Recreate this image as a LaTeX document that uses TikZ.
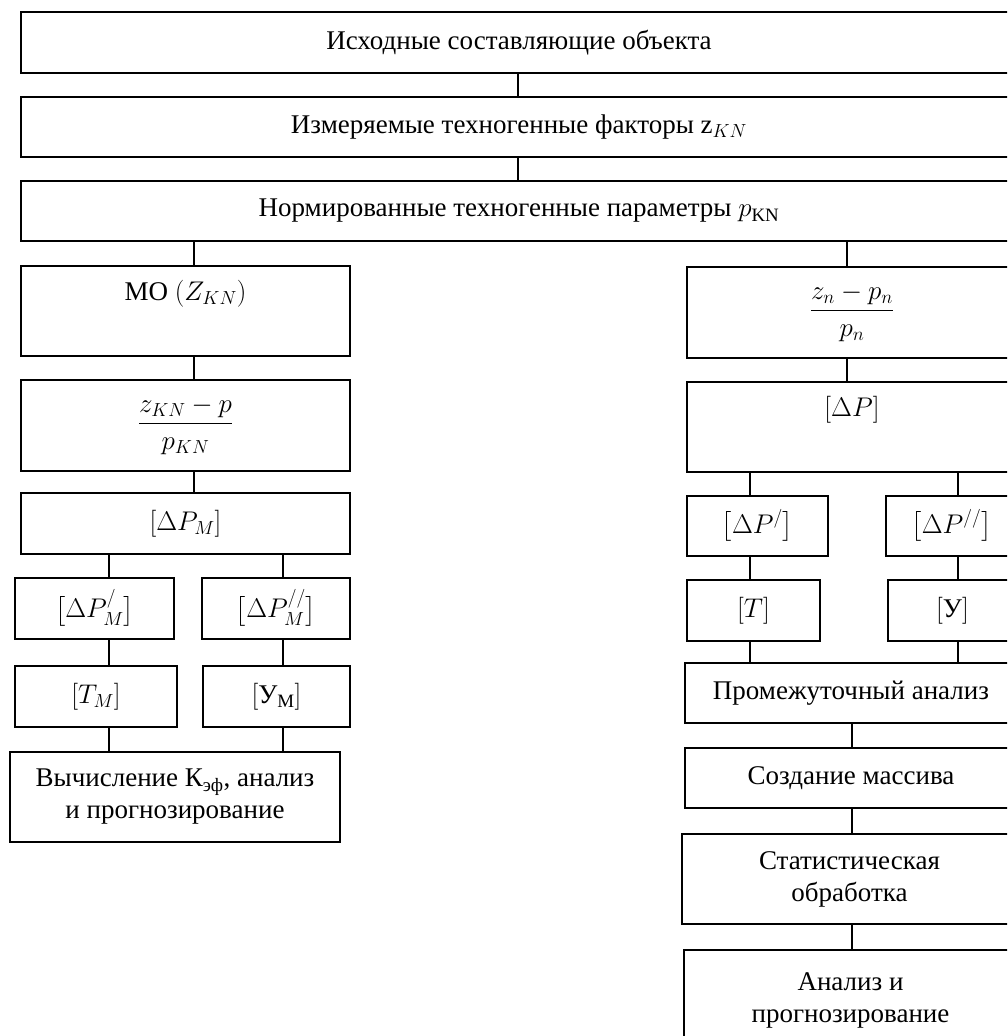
\RequirePackage{fix-cm}
\documentclass[tikz,border=0pt]{standalone}
\usepackage{amsmath}
\usepackage{fontspec}
\setmainfont{Liberation Serif}
\usetikzlibrary{calc}
\tikzset{
  blk/.style={draw, line width=1.4pt, inner sep=0pt, outer sep=0pt, align=center,
    anchor=north west, font=\fontsize{27}{32}\selectfont},
  link/.style={line width=1.4pt},
}
\begin{document}
\begin{tikzpicture}[x=1pt,y=-1pt]
\useasboundingbox (0,0) rectangle (1007,1036);
\clip (0,0) rectangle (1007,1036);
% common trunk
\node[blk, minimum width=996, minimum height=61] (src) at (21,12) {Исходные составляющие объекта};
\node[blk, minimum width=996, minimum height=60] (meas) at (21,97) {Измеряемые техногенные факторы z$_{KN}$};
\node[blk, minimum width=996, minimum height=60] (norm) at (21,181) {Нормированные техногенные параметры $p_{\mathrm{KN}}$};
% left branch
\node[blk, minimum width=329, minimum height=90] (mo) at (21,266) {MO $(Z_{KN})$\\ \strut};
\node[blk, minimum width=329, minimum height=91] (fracL) at (21,380) {$\dfrac{z_{KN}-p}{p_{KN}}$};
\node[blk, minimum width=329, minimum height=61] (dpm) at (21,493) {$[\Delta P_M]$};
\node[blk, minimum width=159, minimum height=61] (dpmA) at (15,578) {$\bigl[\Delta P_M^{/}\bigr]$};
\node[blk, minimum width=148, minimum height=61] (dpmB) at (202,578) {$\bigl[\Delta P_M^{//}\bigr]$};
\node[blk, minimum width=162, minimum height=61] (tm) at (15,666) {$[T_M]$};
\node[blk, minimum width=147, minimum height=61] (um) at (203,666) {$[\text{У}_{\text{М}}]$};
\node[blk, minimum width=330, minimum height=90] (calc) at (10,752) {Вычисление К\textsubscript{эф}, анализ\\и прогнозирование};
% right branch
\node[blk, minimum width=330, minimum height=91] (fracR) at (687,267) {$\dfrac{z_n-p_n}{p_n}$};
\node[blk, minimum width=330, minimum height=90] (dp) at (687,382) {$[\Delta P]$\\ \strut};
\node[blk, minimum width=141, minimum height=60] (dpA) at (687,496) {$\bigl[\Delta P^{/}\bigr]$};
\node[blk, minimum width=131, minimum height=60] (dpB) at (886,496) {$\bigl[\Delta P^{//}\bigr]$};
\node[blk, minimum width=133, minimum height=61] (tt) at (687,580) {$[T]$};
\node[blk, minimum width=129, minimum height=61] (uu) at (888,580) {$[\text{У}]$};
\node[blk, minimum width=332, minimum height=60] (inter) at (685,663) {Промежуточный анализ};
\node[blk, minimum width=332, minimum height=60] (arr) at (685,748) {Создание массива};
\node[blk, minimum width=335, minimum height=90] (stat) at (682,834) {Статистическая\\обработка};
\node[blk, minimum width=333, minimum height=100] (an) at (684,950) {Анализ и\\прогнозирование};
% connector columns
\coordinate (cA) at (518,0);
\coordinate (cL) at (194,0);
\coordinate (cR) at (847,0);
\coordinate (cL1) at (109,0);
\coordinate (cL2) at (283,0);
\coordinate (cR1) at (750,0);
\coordinate (cR2) at (958,0);
\coordinate (cR3) at (852,0);
% connectors
\draw[link] (src.south -| cA) -- (meas.north -| cA);
\draw[link] (meas.south -| cA) -- (norm.north -| cA);
\draw[link] (norm.south -| cL) -- (mo.north -| cL);
\draw[link] (norm.south -| cR) -- (fracR.north -| cR);
\draw[link] (mo.south -| cL) -- (fracL.north -| cL);
\draw[link] (fracL.south -| cL) -- (dpm.north -| cL);
\draw[link] (dpm.south -| cL1) -- (dpmA.north -| cL1);
\draw[link] (dpm.south -| cL2) -- (dpmB.north -| cL2);
\draw[link] (dpmA.south -| cL1) -- (tm.north -| cL1);
\draw[link] (dpmB.south -| cL2) -- (um.north -| cL2);
\draw[link] (tm.south -| cL1) -- (calc.north -| cL1);
\draw[link] (um.south -| cL2) -- (calc.north -| cL2);
\draw[link] (fracR.south -| cR) -- (dp.north -| cR);
\draw[link] (dp.south -| cR1) -- (dpA.north -| cR1);
\draw[link] (dp.south -| cR2) -- (dpB.north -| cR2);
\draw[link] (dpA.south -| cR1) -- (tt.north -| cR1);
\draw[link] (dpB.south -| cR2) -- (uu.north -| cR2);
\draw[link] (tt.south -| cR1) -- (inter.north -| cR1);
\draw[link] (uu.south -| cR2) -- (inter.north -| cR2);
\draw[link] (inter.south -| cR3) -- (arr.north -| cR3);
\draw[link] (arr.south -| cR3) -- (stat.north -| cR3);
\draw[link] (stat.south -| cR3) -- (an.north -| cR3);
\end{tikzpicture}
\end{document}
